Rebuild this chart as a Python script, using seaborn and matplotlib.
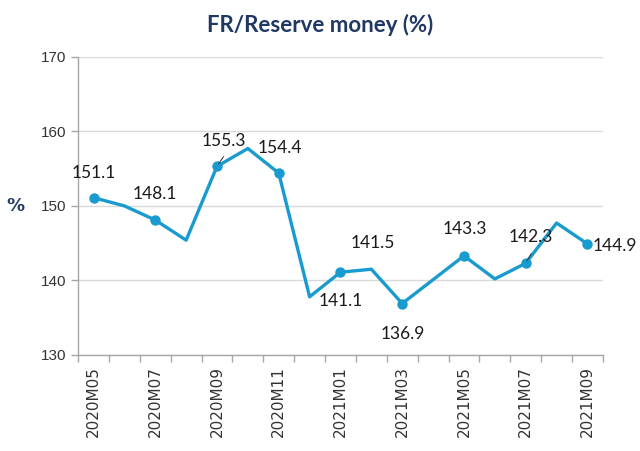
import matplotlib
matplotlib.use("Agg")
import matplotlib.pyplot as plt
import seaborn as sns
import pandas as pd
import numpy as np

months = ["2020M05", "2020M06", "2020M07", "2020M08", "2020M09", "2020M10",
          "2020M11", "2020M12", "2021M01", "2021M02", "2021M03", "2021M04",
          "2021M05", "2021M06", "2021M07", "2021M08", "2021M09"]
values = [151.1, 150.0, 148.1, 145.4, 155.3, 157.7, 154.4, 137.8, 141.1,
          141.5, 136.9, 140.1, 143.3, 140.2, 142.3, 147.7, 144.9]
labeled_idx = [0, 2, 4, 6, 8, 9, 10, 12, 14, 16]
yticks = [130, 140, 150, 160, 170]

sns.set_theme(style="white")
plt.rcParams['font.family'] = ['DejaVu Sans']

navy = "#1F3864"
blue = "#1A9BCF"

df = pd.DataFrame({"idx": np.arange(len(months)), "value": values})

fig = plt.figure(figsize=(6.4, 4.51), dpi=100)
ax = fig.add_axes([0.122, 0.213, 0.820, 0.661])

sns.lineplot(data=df, x="idx", y="value", ax=ax, color=blue, linewidth=2.4,
             marker="o", markersize=7.5, markeredgewidth=0,
             markevery=list(range(0, len(months), 2)))

ax.set_xlim(-0.5, len(months) - 0.5)
ax.set_ylim(130, 170)
ax.set_yticks(yticks)
ax.set_yticklabels([str(v) for v in yticks], fontsize=11, color="#333333",
                   family="Liberation Sans")
ax.grid(axis="y", color="#D9D9D9", linewidth=1)
ax.grid(axis="x", visible=False)

maj = list(range(0, len(months), 2))
ax.set_xticks(maj)
ax.set_xticklabels([months[i] for i in maj], rotation=90, fontsize=11,
                   color="#333333")
ax.set_xticks(np.arange(-0.5, len(months), 1), minor=True)
ax.tick_params(axis="x", which="major", length=0, pad=8)
ax.tick_params(axis="x", which="minor", length=5, color="#A6A6A6", width=1,
               direction="out", bottom=True)
ax.tick_params(axis="y", length=5, color="#A6A6A6", width=1, left=True,
               direction="out")

for s in ["top", "right"]:
    ax.spines[s].set_visible(False)
for s in ["left", "bottom"]:
    ax.spines[s].set_color("#A6A6A6")
    ax.spines[s].set_linewidth(1)

ax.set_xlabel("")
ax.set_ylabel("%", rotation=0, fontsize=13, fontweight="bold", color=navy,
              labelpad=18, va="center")

offsets = {0: (0, 25, "center"), 2: (0, 26, "center"), 4: (7, 25, "center"),
           6: (1, 25, "center"), 8: (0, -29, "center"), 9: (1, 26, "center"),
           10: (1, -30, "center"), 12: (1, 27, "center"), 14: (5, 26, "center"),
           16: (5, -2, "left")}
for i in labeled_idx:
    dx, dy, ha = offsets[i]
    ax.annotate(f"{values[i]:.1f}", xy=(i, values[i]), xytext=(dx, dy),
                textcoords="offset pixels", ha=ha, va="center", fontsize=12.5,
                color="#1a1a1a", family="Lato", annotation_clip=False)
# leader lines
for i, (x1, y1) in {4: (8, 12), 14: (7, 12)}.items():
    ax.annotate("", xy=(i, values[i]), xytext=(x1, y1), textcoords="offset pixels",
                arrowprops=dict(arrowstyle="-", color="#404040", lw=0.8))

fig.text(0.5, 0.945, "FR/Reserve money (%)", ha="center", va="center",
         fontsize=16, fontweight="bold", color=navy, family="Lato")

fig.savefig("out.png", dpi=100, facecolor="white")
